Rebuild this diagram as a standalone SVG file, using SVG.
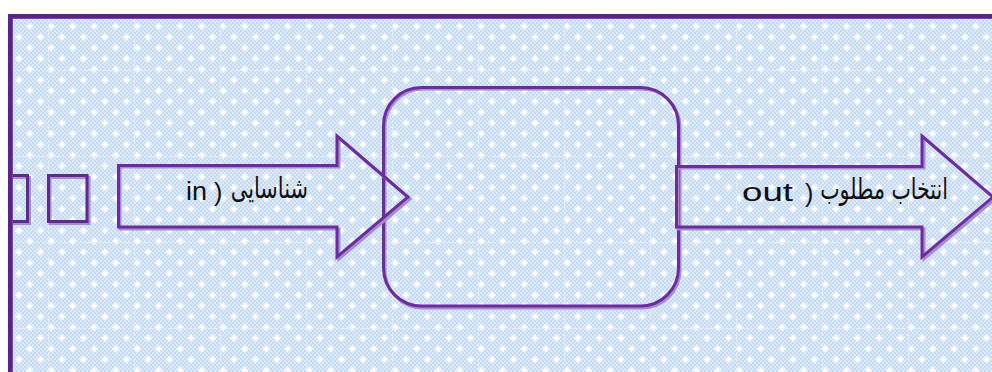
<svg xmlns="http://www.w3.org/2000/svg" width="992" height="372" viewBox="0 0 992 372">
  <style>
    .outline { fill: none; stroke: #6b2d9e; stroke-width: 3; stroke-linejoin: miter; }
    .shadow { fill: none; stroke: #a98bd0; stroke-width: 3; stroke-linejoin: miter; }
    .lat { font-family: "Liberation Sans", "DejaVu Sans", sans-serif; font-size: 25px; fill: #111; }
    .ar { font-family: "DejaVu Sans", "Liberation Sans", sans-serif; font-size: 29px; fill: #111; text-anchor: end; }
  </style>
  <defs>
    <pattern id="checker" width="4" height="4" patternUnits="userSpaceOnUse">
      <rect width="4" height="4" fill="#c5daf0"/>
      <rect width="2" height="2" fill="#dde9f7"/>
      <rect x="2" y="2" width="2" height="2" fill="#dde9f7"/>
    </pattern>
    <radialGradient id="glow">
      <stop offset="0" stop-color="#ffffff" stop-opacity="1"/>
      <stop offset="0.5" stop-color="#ffffff" stop-opacity="0.6"/>
      <stop offset="1" stop-color="#ffffff" stop-opacity="0"/>
    </radialGradient>
    <g id="star">
      <circle r="4" fill="url(#glow)"/>
      <path d="M0,-4.5 L1,-1 L4.5,0 L1,1 L0,4.5 L-1,1 L-4.5,0 L-1,-1 Z" fill="#ffffff"/>
    </g>
    <pattern id="stars" width="21.5" height="21.5" x="62" y="123" patternUnits="userSpaceOnUse">
      <use href="#star" x="0" y="0"/>
      <use href="#star" x="21.5" y="0"/>
      <use href="#star" x="0" y="21.5"/>
      <use href="#star" x="21.5" y="21.5"/>
      <use href="#star" x="10.75" y="10.75"/>
    </pattern>
    <pattern id="seams" width="86" height="86" x="48" y="70" patternUnits="userSpaceOnUse">
      <path d="M0,0.5 H86 M0.5,0 V86" stroke="#e6eff9" stroke-width="1" stroke-dasharray="3 2" fill="none"/>
    </pattern>
  </defs>

  <rect width="992" height="372" fill="#ffffff"/>

  <g id="background">
    <rect x="10" y="16" width="990" height="360" fill="url(#checker)"/>
    <rect x="10" y="16" width="990" height="360" fill="url(#stars)"/>
    <rect x="10" y="16" width="990" height="360" fill="url(#seams)"/>
  </g>

  <g id="square-1">
    <path class="shadow" d="M12,177.5 H29.5 V223.5 H12"/>
    <path class="outline" d="M12,175.5 H27.5 V221.5 H12" style="stroke:#5e2a8e"/>
  </g>

  <g id="square-2">
    <rect class="shadow" x="50" y="177.5" width="39" height="46"/>
    <rect class="outline" x="48.5" y="175.5" width="38.5" height="46" style="stroke:#5e2a8e"/>
  </g>

  <g id="process">
    <rect class="shadow" x="385" y="89" width="295" height="219" rx="38"/>
    <rect class="outline" x="383.5" y="87.5" width="295" height="218.5" rx="38"/>
  </g>

  <g id="connectors">
    <g id="arrow-in">
      <path class="shadow" d="M120,167 H339 V138 L410,199 L339,259 V229 H120 Z"/>
      <path class="outline" d="M118.5,165.5 H337 V136 L408,197 L337,257 V227 H118.5 Z"/>
      <text class="lat" x="186" y="200" textLength="21" lengthAdjust="spacingAndGlyphs">in</text>
      <text class="lat" x="214" y="201">)</text>
      <text class="ar" transform="translate(308,198) scale(0.72,1)">شناسایی</text>
    </g>
    <g id="arrow-out">
      <path class="shadow" d="M678,168 H924 V138 L995,199 L924,259 V229 H678 Z"/>
      <path class="outline" d="M676.5,166.5 H922 V136 L993,197 L922,257 V227 H676.5 Z"/>
      <text class="lat" x="742" y="201" textLength="51" lengthAdjust="spacingAndGlyphs">out</text>
      <text class="lat" x="805" y="202">)</text>
      <text class="ar" transform="translate(948,199) scale(0.71,1)">انتخاب مطلوب</text>
    </g>
  </g>

  <g id="frame">
    <rect x="10" y="16" width="1000" height="400" fill="none" stroke="#5a2486" stroke-width="4"/>
    <rect x="12.5" y="18.5" width="1000" height="400" fill="none" stroke="#7a45b0" stroke-width="1"/>
  </g>
</svg>
